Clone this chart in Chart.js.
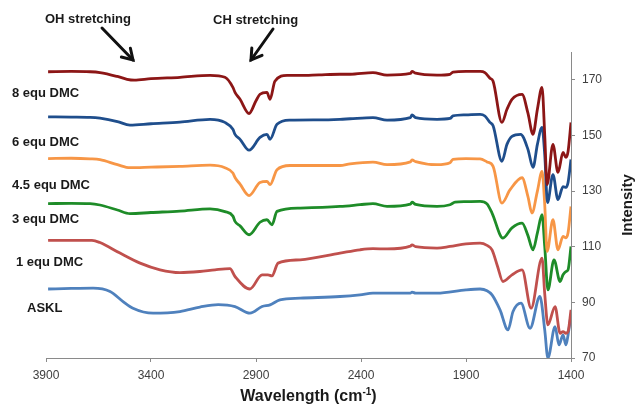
<!DOCTYPE html>
<html><head><meta charset="utf-8">
<script src="https://cdn.jsdelivr.net/npm/chart.js@4/dist/chart.umd.min.js"></script>
<style>html,body{margin:0;padding:0;background:#fff;overflow:hidden}#wrap{width:638px;height:408px}</style>
</head><body><div id="wrap"><canvas id="c" width="638" height="408"></canvas></div>
<script>
// ---- data (wavenumber cm-1, intensity) ----
const seriesNames = ['8 equ DMC','6 equ DMC','4.5 equ DMC','3 equ DMC','1 equ DMC','ASKL'];
const xTicks = [3900,3400,2900,2400,1900,1400];
const yTicks = [70,90,110,130,150,170];

const dmc8 = [[3890,172.9],[3780,173.0],[3690,172.9],[3643,172.6],[3560,171.2],[3514,170.2],[3480,169.9],[3400,170.4],[3262,170.9],[3119,171.6],[3048,170.9],[3010,167.3],[3000,165.5],[2976,163.0],[2933,157.9],[2900,162.5],[2881,164.8],[2848,165.5],[2833,163.0],[2810,169.5],[2752,171.6],[2690,171.6],[2600,171.8],[2500,172.0],[2452,172.0],[2343,172.6],[2276,171.7],[2165,172.3],[2157,173.0],[2140,172.4],[2038,171.7],[1976,172.0],[1962,172.8],[1900,173.0],[1833,173.0],[1810,172.6],[1786,170.6],[1771,169.5],[1729,154.7],[1705,159.4],[1681,163.0],[1633,164.8],[1605,158.0],[1581,150.4],[1560,159.4],[1538,167.3],[1525,150.0],[1514,132.3],[1486,146.8],[1462,136.7],[1438,143.9],[1424,142.1],[1414,144.2],[1400,154.7]];

const dmc6 = [[3890,156.7],[3780,156.6],[3690,156.5],[3643,156.2],[3560,155.0],[3500,153.7],[3400,154.2],[3262,154.8],[3119,155.8],[3048,154.7],[3010,152.2],[3000,150.4],[2976,148.6],[2933,144.7],[2881,149.3],[2848,150.4],[2833,148.6],[2800,154.0],[2738,155.5],[2600,155.6],[2500,155.8],[2452,156.0],[2343,156.4],[2276,155.5],[2165,156.4],[2157,157.4],[2140,156.4],[2038,155.8],[1976,156.1],[1962,157.0],[1900,157.4],[1833,157.6],[1810,157.0],[1786,154.7],[1771,153.5],[1729,140.7],[1705,146.8],[1681,149.7],[1640,150.4],[1605,145.0],[1581,138.5],[1560,146.8],[1538,152.9],[1525,143.0],[1512,125.9],[1486,135.9],[1462,126.9],[1438,131.6],[1424,131.3],[1414,133.1],[1400,141.4]];

const dmc45 = [[3890,141.7],[3780,141.8],[3690,141.6],[3643,141.3],[3560,139.5],[3500,138.4],[3400,138.6],[3262,138.9],[3119,139.3],[3048,138.4],[3010,136.5],[3000,134.9],[2976,132.5],[2933,128.4],[2881,133.1],[2848,133.5],[2833,132.3],[2800,137.7],[2738,139.2],[2600,139.2],[2500,139.2],[2452,139.8],[2343,140.4],[2276,139.5],[2165,140.5],[2157,141.2],[2140,140.6],[2038,139.5],[1976,140.2],[1962,141.4],[1900,141.7],[1833,141.6],[1800,140.5],[1771,138.9],[1729,125.7],[1690,130.5],[1633,134.8],[1605,128.0],[1586,122.1],[1560,130.0],[1538,137.1],[1525,125.0],[1514,108.3],[1486,119.7],[1462,108.9],[1438,113.7],[1424,113.2],[1414,115.0],[1400,124.5]];

const dmc3 = [[3890,125.5],[3780,125.6],[3690,125.5],[3643,125.0],[3560,123.2],[3500,121.9],[3400,122.3],[3262,122.8],[3119,123.6],[3048,122.6],[3010,121.0],[3000,119.1],[2976,117.5],[2933,114.3],[2881,118.8],[2848,119.7],[2824,117.9],[2800,122.7],[2690,123.9],[2500,124.5],[2405,125.1],[2343,125.5],[2276,124.5],[2165,125.3],[2157,126.0],[2140,125.2],[2038,124.5],[1976,125.1],[1952,126.0],[1900,126.2],[1833,126.3],[1800,125.4],[1776,122.1],[1724,113.1],[1681,116.8],[1633,118.5],[1605,114.0],[1581,108.9],[1560,115.0],[1538,121.5],[1525,110.0],[1510,94.5],[1481,105.3],[1452,97.5],[1438,99.9],[1424,101.1],[1414,101.7],[1400,110.1]];

const dmc1 = [[3890,112.3],[3780,112.3],[3681,112.3],[3643,111.5],[3550,107.8],[3452,104.1],[3357,101.7],[3262,100.7],[3167,101.1],[3095,101.7],[3024,102.1],[3000,99.3],[2929,94.8],[2871,99.9],[2843,99.9],[2824,99.5],[2795,104.1],[2690,105.3],[2500,107.7],[2405,108.9],[2343,109.3],[2276,109.2],[2165,110.2],[2157,110.7],[2140,110.0],[2038,109.5],[1976,110.1],[1900,111.0],[1833,111.3],[1800,110.5],[1776,108.9],[1750,103.0],[1724,97.5],[1681,99.9],[1633,101.7],[1590,87.9],[1538,105.9],[1525,93.0],[1510,81.9],[1476,88.5],[1452,78.9],[1438,79.5],[1424,78.9],[1414,79.5],[1400,87.3]];

const askl = [[3890,94.8],[3780,95.0],[3676,95.1],[3595,93.9],[3533,90.3],[3486,87.9],[3390,86.1],[3262,86.7],[3167,88.3],[3080,89.2],[3000,88.5],[2929,86.1],[2871,88.5],[2833,89.1],[2786,90.9],[2690,91.5],[2500,92.1],[2405,92.7],[2343,93.3],[2165,93.3],[2157,93.7],[2140,93.3],[2038,93.3],[1900,94.5],[1833,94.8],[1800,94.2],[1776,92.7],[1738,87.3],[1700,80.1],[1676,86.7],[1638,89.7],[1595,80.7],[1548,92.1],[1525,80.0],[1510,70.0],[1476,81.3],[1457,74.7],[1438,78.3],[1424,74.7],[1414,78.3],[1400,85.5]];

const seriesData = [dmc8, dmc6, dmc45, dmc3, dmc1, askl];
const seriesColors = ['#8C1616','#1F4E8C','#F79646','#1E8C28','#C0504D','#4F81BD'];

// ---- annotation texts ----
const labelTexts = ['8 equ DMC','6 equ DMC','4.5 equ DMC','3 equ DMC','1 equ DMC','ASKL'];
const labelPos = [[12,93],[12,142],[12,185],[12,219],[16,262],[27,308]];
const notes = [{text:'OH stretching', x:45, y:19, from:[102,28], to:[133,60]},
               {text:'CH stretching', x:213, y:20, from:[273,29], to:[251,60]}];

const FONT = '"Liberation Sans", Arial, sans-serif';

const annot = {
  id: 'annot',
  afterDraw(chart) {
    const ctx = chart.ctx;
    ctx.save();
    ctx.fillStyle = '#1a1a1a';
    ctx.font = 'bold 13px ' + FONT;
    ctx.textBaseline = 'middle';
    ctx.textAlign = 'left';
    labelTexts.forEach((t, i) => ctx.fillText(t, labelPos[i][0], labelPos[i][1]));
    notes.forEach(n => {
      ctx.fillText(n.text, n.x, n.y);
      const [x1, y1] = n.from, [x2, y2] = n.to;
      ctx.strokeStyle = '#111';
      ctx.lineWidth = 3;
      ctx.lineCap = 'round';
      ctx.beginPath(); ctx.moveTo(x1, y1); ctx.lineTo(x2, y2); ctx.stroke();
      const a = Math.atan2(y2 - y1, x2 - x1), L = 12, s = 0.55;
      ctx.beginPath();
      ctx.moveTo(x2 - L * Math.cos(a - s), y2 - L * Math.sin(a - s));
      ctx.lineTo(x2, y2);
      ctx.lineTo(x2 - L * Math.cos(a + s), y2 - L * Math.sin(a + s));
      ctx.stroke();
    });
    // x axis title with superscript
    const cx = (chart.chartArea.left + chart.chartArea.right) / 2;
    const ty = 397;
    const f1 = 'bold 16px ' + FONT, f2 = 'bold 10px ' + FONT;
    ctx.font = f1; const w1 = ctx.measureText('Wavelength (cm').width; const w3 = ctx.measureText(')').width;
    ctx.font = f2; const w2 = ctx.measureText('-1').width;
    let x0 = cx - (w1 + w2 + w3) / 2;
    ctx.fillStyle = '#1a1a1a';
    ctx.font = f1; ctx.fillText('Wavelength (cm', x0, ty);
    ctx.font = f2; ctx.fillText('-1', x0 + w1, ty - 5);
    ctx.font = f1; ctx.fillText(')', x0 + w1 + w2, ty);
    // y axis title, reading bottom-to-top
    ctx.translate(628, (chart.chartArea.top + chart.chartArea.bottom) / 2);
    ctx.rotate(-Math.PI / 2);
    ctx.textAlign = 'center';
    ctx.font = 'bold 15px ' + FONT;
    ctx.fillText('Intensity', 0, 0);
    ctx.restore();
  }
};

new Chart(document.getElementById('c'), {
  type: 'line',
  data: {
    datasets: seriesData.map((d, i) => ({
      label: seriesNames[i],
      data: d.map(p => ({x: p[0], y: p[1]})),
      borderColor: seriesColors[i],
      backgroundColor: seriesColors[i],
      borderWidth: 2.8,
      pointRadius: 0,
      cubicInterpolationMode: 'monotone',
      fill: false
    }))
  },
  options: {
    responsive: false,
    animation: false,
    devicePixelRatio: 1,
    layout: {padding: {left: 46, top: 52, right: 0, bottom: 0}},
    plugins: {legend: {display: false}, tooltip: {enabled: false}, title: {display: false}},
    scales: {
      x: {
        type: 'linear', reverse: true, min: 1400, max: 3900,
        afterBuildTicks: s => { s.ticks = xTicks.map(v => ({value: v})); },
        afterFit: s => { s.height = 50; },
        grid: {drawOnChartArea: false, drawTicks: true, tickLength: 4, color: '#8a8a8a'},
        border: {color: '#8a8a8a', width: 1},
        ticks: {color: '#404040', font: {size: 12, family: FONT}, padding: 6, maxRotation: 0,
                callback: v => String(v)}
      },
      y: {
        type: 'linear', position: 'right', min: 70, max: 180,
        afterBuildTicks: s => { s.ticks = yTicks.map(v => ({value: v})); },
        afterFit: s => { s.width = 67; },
        grid: {drawOnChartArea: false, drawTicks: true, tickLength: 4, color: '#8a8a8a'},
        border: {color: '#8a8a8a', width: 1},
        ticks: {color: '#404040', font: {size: 12, family: FONT}, padding: 7,
                callback: v => String(v)}
      }
    }
  },
  plugins: [annot]
});
</script>
</body></html>
